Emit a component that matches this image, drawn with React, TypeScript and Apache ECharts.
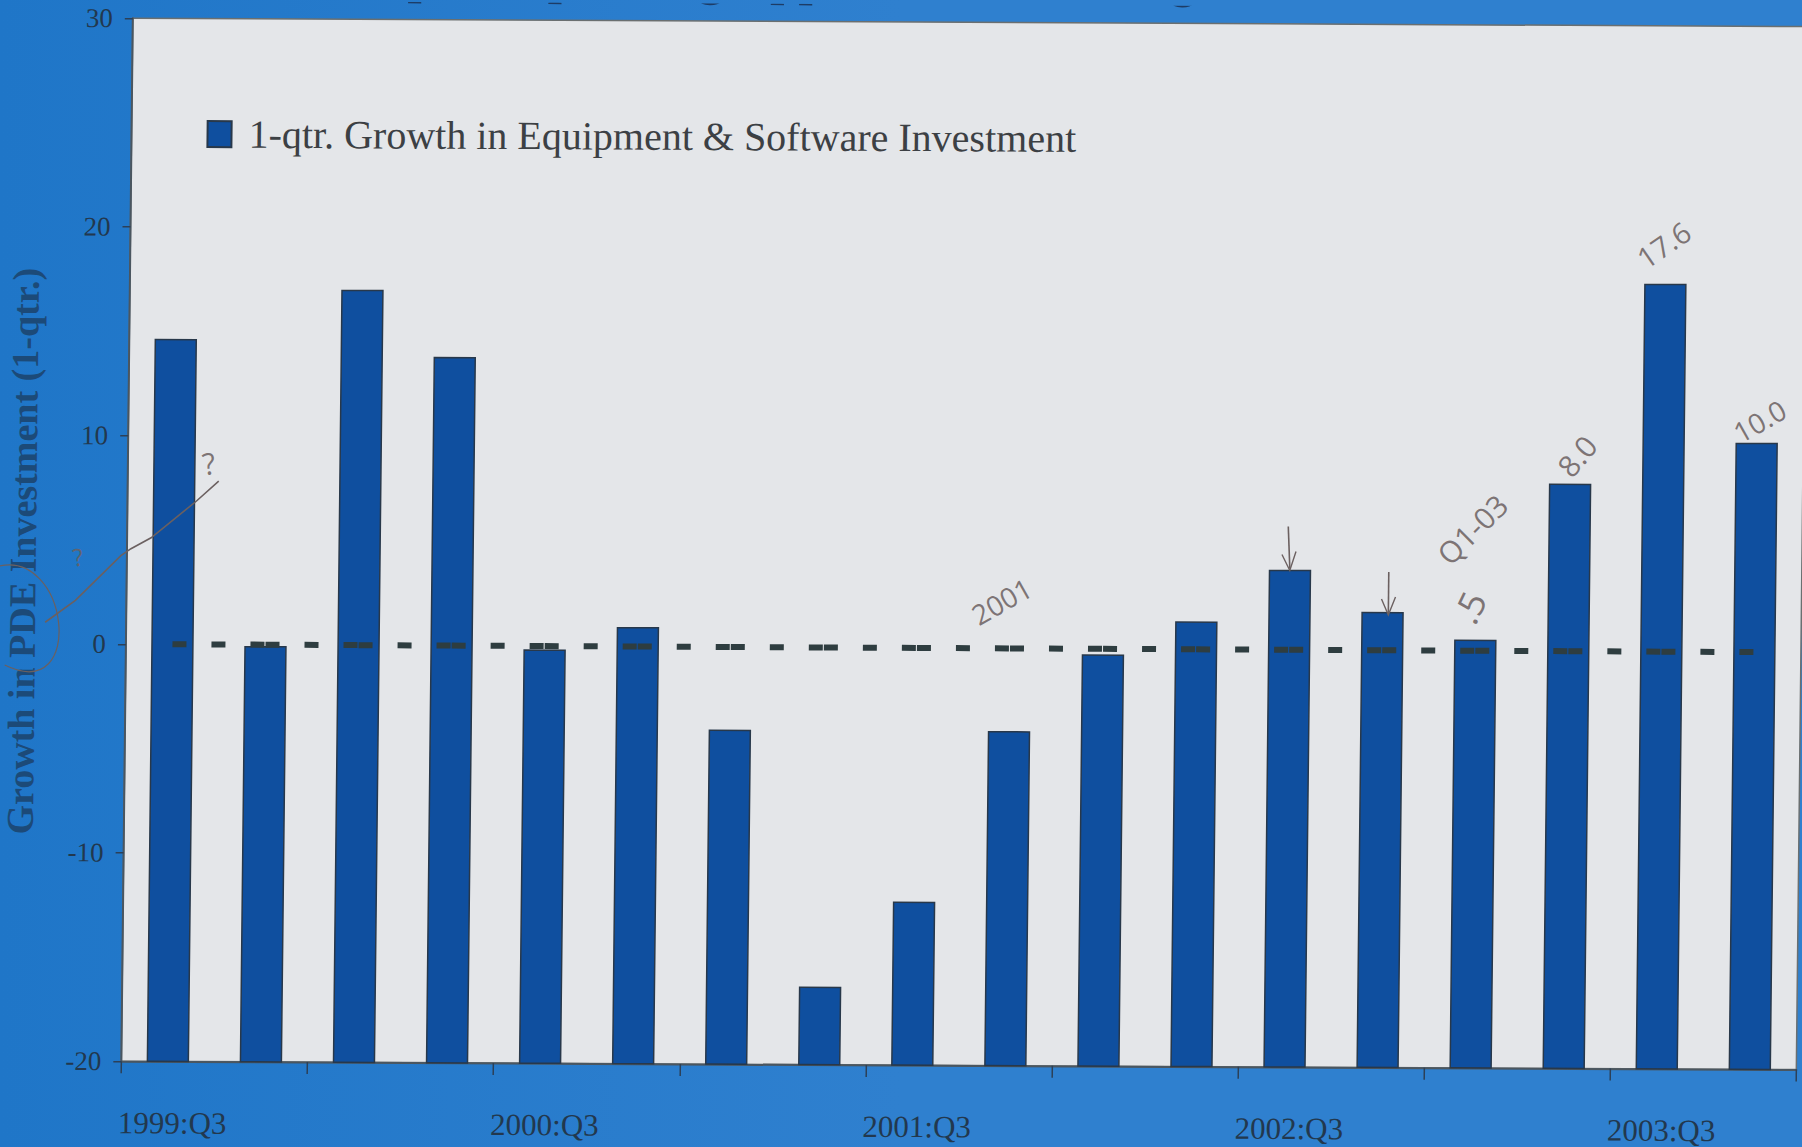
import React, { useEffect, useRef } from "react";
import * as echarts from "echarts";

const categories = [
  "1999:Q3","1999:Q4","2000:Q1","2000:Q2","2000:Q3","2000:Q4","2001:Q1","2001:Q2","2001:Q3",
  "2001:Q4","2002:Q1","2002:Q2","2002:Q3","2002:Q4","2003:Q1","2003:Q2","2003:Q3","2003:Q4",
];
const growth = [14.6, -0.1, 17.0, 13.8, -0.2, 0.9, -4.0, -16.3, -12.2, -4.0, -0.3, 1.3, 3.8, 1.8, 0.5, 8.0, 17.6, 10.0];
const zeroLine = categories.map(() => 0);
const seriesName = "1-qtr. Growth in Equipment & Software Investment";
const yAxisName = "Growth in PDE Investment (1-qtr.)";
const titleText = "Capital Spending Appears to be Strong";
const AXIS_MIN = -20;
const notes = [
  { t: "17.6", x: 1666, y: 236, r: 35, s: 29 },
  { t: "10.0", x: 1764, y: 412, r: 30, s: 28 },
  { t: "8.0", x: 1582, y: 448, r: 50, s: 30 },
  { t: "Q1-03", x: 1478, y: 522, r: 45, s: 30 },
  { t: ".5", x: 1476, y: 600, r: 65, s: 36 },
  { t: "2001", x: 1008, y: 596, r: 30, s: 28 },
  { t: "?", x: 214, y: 462, r: 10, s: 30 },
  { t: "?", x: 84, y: 556, r: 10, s: 24 },
];
const FONT = "'Liberation Serif', serif";
const INK = "#6b6060";

export default function App() {
  const ref = useRef<HTMLDivElement>(null);
  useEffect(() => {
    const chart = echarts.init(ref.current!, undefined, { renderer: "svg" });
    chart.setOption({
      animation: false,
      backgroundColor: "transparent",
      grid: { left: 133, top: 17.5, width: 1675, height: 1043, show: true, backgroundColor: "#e4e6e9", borderWidth: 1.5, borderColor: "#6a6f70" },
      legend: {
        data: [{ name: seriesName, icon: "rect" }],
        left: 203, top: 108, itemWidth: 24, itemHeight: 26, itemGap: 20, selectedMode: false,
        textStyle: { fontFamily: FONT, fontSize: 40, color: "#3c4044", padding: [0, 0, 0, 12] },
      },
      xAxis: {
        type: "category", data: categories,
        axisLine: { onZero: false, lineStyle: { color: "#4a5660", width: 2 } },
        axisTick: { show: true, interval: 1, length: 12, lineStyle: { color: "#2c4058", width: 1.5 } },
        axisLabel: { interval: 3, margin: 46, fontFamily: FONT, fontSize: 31, color: "#22384e", padding: [0, 0, 0, 10] },
      },
      yAxis: {
        type: "value", min: AXIS_MIN, max: 30, interval: 10,
        name: yAxisName, nameLocation: "middle", nameGap: 85, nameRotate: 90,
        nameTextStyle: { fontFamily: FONT, fontSize: 38, fontWeight: "bold", color: "#1c4a78", padding: [0, 24, 0, 0] },
        splitLine: { show: false },
        axisLine: { show: true, lineStyle: { color: "#4a5660", width: 2 } },
        axisTick: { show: true, length: 8, lineStyle: { color: "#2c4058", width: 1.5 } },
        axisLabel: { margin: 20, fontFamily: FONT, fontSize: 27, color: "#22384e" },
      },
      series: [
        {
          name: seriesName, type: "custom", z: 2,
          data: growth.map((v, i) => [i, v]),
          encode: { x: 0, y: 1 },
          itemStyle: { color: "#0f4f9f", borderColor: "#28384a", borderWidth: 1.5 },
          renderItem: (_p: any, api: any) => {
            const i = api.value(0);
            const top = api.coord([i, api.value(1)]);
            const base = api.coord([i, AXIS_MIN]);
            const w = api.size([1, 0])[0] * 0.44;
            return {
              type: "rect",
              shape: { x: top[0] - w / 2, y: top[1], width: w, height: base[1] - top[1] },
              style: { fill: "#0f4f9f", stroke: "#28384a", lineWidth: 1.5 },
            };
          },
        },
        {
          name: "zero", type: "line", data: zeroLine, symbol: "none", z: 3, silent: true,
          lineStyle: { color: "#2e3d40", width: 6, type: [14, 25, 14, 25, 14, 1.06] },
        },
      ],
      graphic: [
        { type: "text", x: 345, y: -52, z: 10, style: { text: titleText, font: `bold 51px ${FONT}`, fill: "#1d3c66" } },
        ...notes.map((n) => ({
          type: "text", x: n.x, y: n.y, z: 10, rotation: (n.r * Math.PI) / 180,
          style: { text: n.t, font: `${n.s}px 'Open Sans', sans-serif`, fill: INK, opacity: 0.85, textAlign: "center", textVerticalAlign: "middle" },
        })),
        { type: "polyline", z: 10, shape: { points: [[52, 622], [82, 600], [127, 555], [137, 548], [157, 537], [202, 500], [224, 480]] }, style: { stroke: INK, lineWidth: 1.6, fill: "none" } },
        { type: "bezierCurve", z: 10, shape: { x1: 2, y1: 567, cpx1: 75, cpy1: 545, cpx2: 95, cpy2: 705, x2: 12, y2: 665 }, style: { stroke: INK, lineWidth: 1.2, fill: "none" } },
        { type: "polyline", z: 10, shape: { points: [[1294, 520], [1296, 562]] }, style: { stroke: INK, lineWidth: 1.6, fill: "none" } },
        { type: "polyline", z: 10, shape: { points: [[1288, 548], [1296, 564], [1302, 545]] }, style: { stroke: INK, lineWidth: 1.4, fill: "none" } },
        { type: "polyline", z: 10, shape: { points: [[1395, 565], [1395, 606]] }, style: { stroke: INK, lineWidth: 1.6, fill: "none" } },
        { type: "polyline", z: 10, shape: { points: [[1388, 592], [1395, 608], [1402, 590]] }, style: { stroke: INK, lineWidth: 1.4, fill: "none" } },
      ],
    });
    return () => chart.dispose();
  }, []);
  return (
    <div style={{ position: "fixed", inset: 0, width: 1802, height: 1147, overflow: "hidden", background: "linear-gradient(90deg,#1f76c8 0%,#2f80cf 50%,#2f80cf 100%)" }}>
      <div ref={ref} style={{ width: 1900, height: 1200, transformOrigin: "0 0", transform: "matrix(1,0.005,-0.011,1,0,0)" }} />
    </div>
  );
}
